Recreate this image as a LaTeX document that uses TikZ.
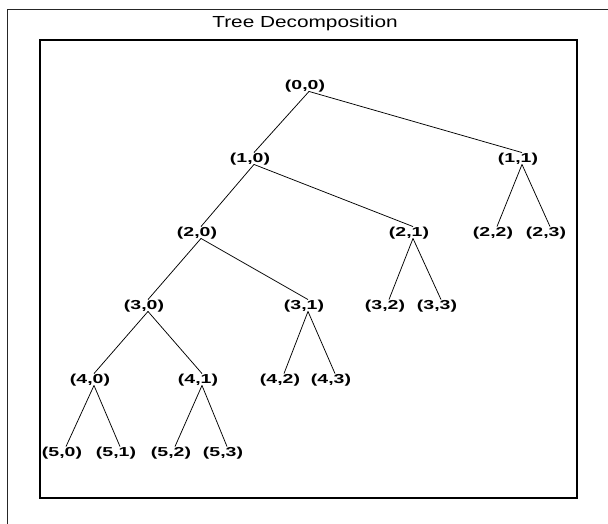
\documentclass[tikz,border=0pt]{standalone}
\usepackage{fontspec}
\newfontfamily\lblfont[FakeStretch=1.5]{Liberation Sans}
\newfontfamily\ttlfont[FakeStretch=1.3]{Liberation Sans}
\tikzset{
  lbl/.style={inner sep=0pt, text height=9.5pt, text depth=3pt,
    font=\lblfont\bfseries\fontsize{13}{13}\selectfont},
  edge/.style={line width=0.75pt, black},
}
\newcommand{\branch}[2]{\draw[edge] ([xshift=4pt,yshift=1pt]#1.south) -- ([xshift=4pt]#2.north);}
\begin{document}
\begin{tikzpicture}[x=1pt,y=-1pt]
  \useasboundingbox (0,0) rectangle (608,524);
  % figure frame and axes box
  \draw[line width=1pt, black!85] (7.5,524) -- (7.5,10) -- (608,10);
  \draw[line width=1.6pt, black] (40,40) rectangle (577,498);
  \node[font=\ttlfont\fontsize{16}{16}\selectfont, inner sep=0pt] (title) at (305,23) {Tree Decomposition};
  % level 0
  \node[lbl] (n00) at (305,86) {(0,0)};
  % level 1
  \node[lbl] (n10) at (250,159) {(1,0)};
  \node[lbl] (n11) at (518,159) {(1,1)};
  % level 2
  \node[lbl] (n20) at (197,233) {(2,0)};
  \node[lbl] (n21) at (409,233) {(2,1)};
  \node[lbl] (n22) at (493,233) {(2,2)};
  \node[lbl] (n23) at (546,233) {(2,3)};
  % level 3
  \node[lbl] (n30) at (144,306) {(3,0)};
  \node[lbl] (n31) at (304,306) {(3,1)};
  \node[lbl] (n32) at (385,306) {(3,2)};
  \node[lbl] (n33) at (437,306) {(3,3)};
  % level 4
  \node[lbl] (n40) at (90,380) {(4,0)};
  \node[lbl] (n41) at (198,380) {(4,1)};
  \node[lbl] (n42) at (280,380) {(4,2)};
  \node[lbl] (n43) at (331,380) {(4,3)};
  % level 5
  \node[lbl] (n50) at (62,453) {(5,0)};
  \node[lbl] (n51) at (116,453) {(5,1)};
  \node[lbl] (n52) at (171,453) {(5,2)};
  \node[lbl] (n53) at (223,453) {(5,3)};
  % branches
  \branch{n00}{n10} \branch{n00}{n11}
  \branch{n10}{n20} \branch{n10}{n21}
  \branch{n11}{n22} \branch{n11}{n23}
  \branch{n20}{n30} \branch{n20}{n31}
  \branch{n21}{n32} \branch{n21}{n33}
  \branch{n30}{n40} \branch{n30}{n41}
  \branch{n31}{n42} \branch{n31}{n43}
  \branch{n40}{n50} \branch{n40}{n51}
  \branch{n41}{n52} \branch{n41}{n53}
\end{tikzpicture}
\end{document}
